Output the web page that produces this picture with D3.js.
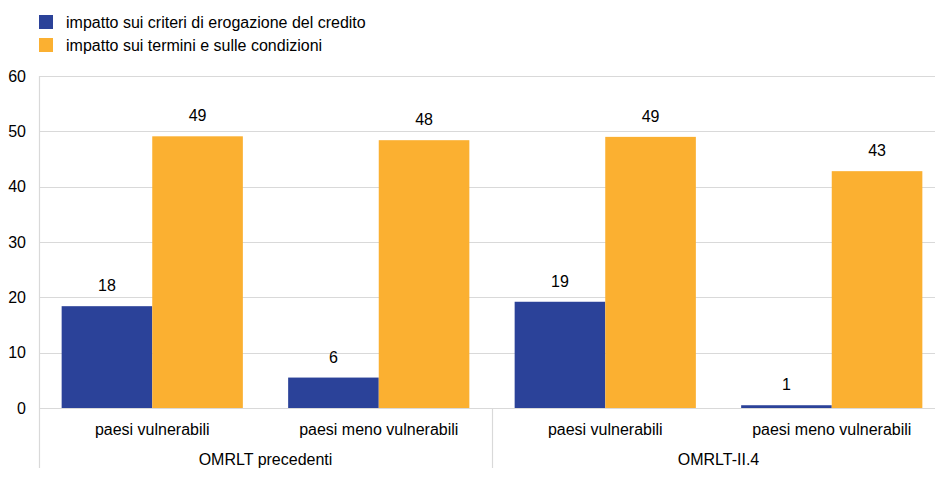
<!DOCTYPE html>
<meta charset="utf-8">
<script src="https://cdn.jsdelivr.net/npm/d3@7"></script>
<style>
body { margin: 0; background: #fff; }
text { font-family: "Liberation Sans", Arial, sans-serif; font-size: 16px; fill: #000; }
.grid line { stroke: #d9d9d9; stroke-width: 1px; }
.frame { stroke: #d9d9d9; stroke-width: 1.2px; }
</style>
<body>
<script>

// data
var groups = ["OMRLT precedenti", "OMRLT-II.4"];
var categories = ["paesi vulnerabili", "paesi meno vulnerabili", "paesi vulnerabili", "paesi meno vulnerabili"];
var seriesNames = ["impatto sui criteri di erogazione del credito", "impatto sui termini e sulle condizioni"];
var criteri = [18.4, 5.5, 19.2, 0.5];
var termini = [49.1, 48.4, 49.0, 42.8];
var yTicks = [0, 10, 20, 30, 40, 50, 60];

var colors = ["#2b4299", "#fbb031"];
var width = 935, height = 477;

var svg = d3.select("body").append("svg")
    .attr("width", width)
    .attr("height", height);

var idx = categories.map(function(c, i) { return i; });

var x = d3.scaleBand()
    .domain(idx)
    .range([39, 945])
    .paddingInner(0.2)
    .paddingOuter(0.1);

var xs = d3.scaleBand()
    .domain([0, 1])
    .range([0, x.bandwidth()]);

var y = d3.scaleLinear()
    .domain([0, 60])
    .range([408, 76]);

// gridlines
svg.append("g")
    .attr("class", "grid")
    .selectAll("line")
    .data(yTicks)
    .enter().append("line")
    .attr("x1", 39)
    .attr("x2", width)
    .attr("y1", function(d) { return Math.round(y(d)) + 0.5; })
    .attr("y2", function(d) { return Math.round(y(d)) + 0.5; });

// y tick labels
svg.append("g")
    .selectAll("text")
    .data(yTicks)
    .enter().append("text")
    .attr("x", 26)
    .attr("y", function(d) { return y(d); })
    .attr("dy", "0.35em")
    .attr("text-anchor", "end")
    .text(function(d) { return d; });

// left axis line and group separator
svg.append("line").attr("class", "frame")
    .attr("x1", 39.5).attr("x2", 39.5)
    .attr("y1", y(60)).attr("y2", 468);

var step = x.step();
var groupStart = function(g) { return x(g * 2) - step * x.paddingInner() / 2; };

svg.append("line").attr("class", "frame")
    .attr("x1", Math.round(groupStart(1)) + 0.5).attr("x2", Math.round(groupStart(1)) + 0.5)
    .attr("y1", y(0)).attr("y2", 468);

// bars
var series = [criteri, termini];
series.forEach(function(vals, s) {
  var g = svg.append("g");
  g.selectAll("rect")
      .data(vals)
      .enter().append("rect")
      .attr("x", function(d, i) { return x(i) + xs(s); })
      .attr("width", xs.bandwidth())
      .attr("y", function(d) { return y(d); })
      .attr("height", function(d) { return y(0) - y(d); })
      .attr("fill", colors[s]);

  g.selectAll("text")
      .data(vals)
      .enter().append("text")
      .attr("x", function(d, i) { return x(i) + xs(s) + xs.bandwidth() / 2; })
      .attr("y", function(d) { return y(d) - 15; })
      .attr("text-anchor", "middle")
      .text(function(d) { return Math.round(d); });
});

// category labels
svg.append("g")
    .selectAll("text")
    .data(categories)
    .enter().append("text")
    .attr("x", function(d, i) { return x(i) + x.bandwidth() / 2; })
    .attr("y", 435)
    .attr("text-anchor", "middle")
    .text(function(d) { return d; });

// group labels
svg.append("g")
    .selectAll("text")
    .data(groups)
    .enter().append("text")
    .attr("x", function(d, g) { return groupStart(g) + step; })
    .attr("y", 465)
    .attr("text-anchor", "middle")
    .text(function(d) { return d; });

// legend
var legend = svg.append("g")
    .selectAll("g")
    .data(seriesNames)
    .enter().append("g")
    .attr("transform", function(d, i) { return "translate(39," + (15 + i * 23) + ")"; });

legend.append("rect")
    .attr("width", 14)
    .attr("height", 14)
    .attr("fill", function(d, i) { return colors[i]; });

legend.append("text")
    .attr("x", 27)
    .attr("y", 7)
    .attr("dy", "0.35em")
    .text(function(d) { return d; });

</script>
</body>
